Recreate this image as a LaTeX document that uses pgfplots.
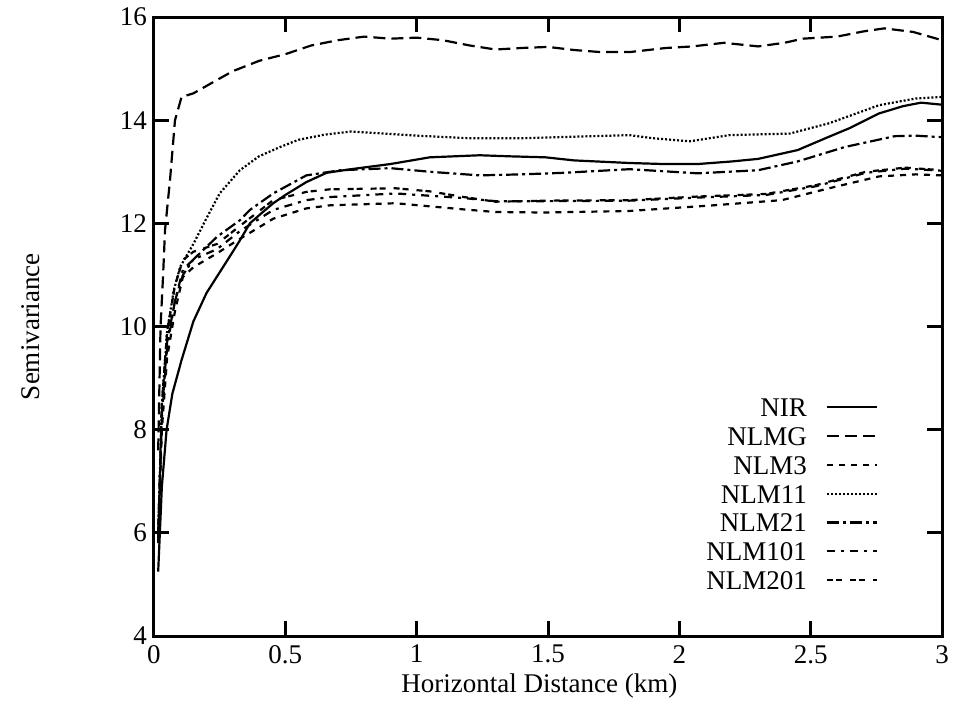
\documentclass[border=0pt]{standalone}
\usepackage{fontspec}
\setmainfont{Liberation Serif}
\usepackage{pgfplots}
\pgfplotsset{compat=1.18}
\newcommand\f{\fontsize{13.5}{16}\selectfont}
\begin{document}
\begin{tikzpicture}
\begin{axis}[
  scale only axis, width=394pt, height=309.5pt,
  xmin=0, xmax=3, ymin=4, ymax=16,
  xtick={0,0.5,...,3}, ytick={4,6,...,16},
  xticklabels={0,0.5,1,1.5,2,2.5,3},
  tick align=inside, major tick length=7.5pt,
  axis line style={line width=1.5pt}, every tick/.style={line width=1.5pt, black},
  /pgf/number format/assume math mode=true,
  tick label style={font=\f},
  label style={font=\f},
  xlabel={Horizontal Distance (km)},
  ylabel={Semivariance},
  xlabel style={at={(axis description cs:0.489,-0.081)}, anchor=center},
  ylabel style={at={(axis description cs:-0.157,0.5)}, anchor=center},
  xticklabel style={yshift=-1pt},
  clip=false,
  legend cell align=right,
  legend plot pos=right,
  legend image code/.code={\draw[#1] (0pt,0pt) -- (25pt,0pt);},
  legend style={draw=none, fill=none, font=\f, at={(axis description cs:0.927,0.397)}, anchor=north east,
    row sep=1.9pt, column sep=8pt, nodes={inner sep=1.5pt, text height=9.5pt, text depth=0pt}},
]
\addplot[black, solid, no markers, line width=1.1pt] coordinates {(0.016,5.25)(0.03,6.9)(0.048,8.0)(0.07,8.7)(0.105,9.35)(0.15,10.1)(0.2,10.65)(0.25,11.05)(0.3,11.45)(0.327,11.67)(0.365,12.0)(0.41,12.2)(0.454,12.39)(0.5,12.55)(0.58,12.8)(0.657,12.98)(0.75,13.05)(0.9,13.15)(1.05,13.28)(1.24,13.32)(1.35,13.3)(1.49,13.28)(1.6,13.22)(1.81,13.17)(1.94,13.15)(2.07,13.15)(2.2,13.2)(2.3,13.25)(2.45,13.42)(2.57,13.68)(2.65,13.85)(2.76,14.13)(2.85,14.27)(2.92,14.34)(3.0,14.3)};
\addlegendentry{NIR}
\addplot[black, no markers, line width=1.1pt, dash pattern=on 6pt off 3pt] coordinates {(0.016,7.6)(0.025,10.0)(0.035,11.03)(0.042,11.87)(0.061,12.84)(0.08,14.0)(0.105,14.45)(0.15,14.52)(0.24,14.78)(0.3,14.95)(0.4,15.15)(0.5,15.28)(0.6,15.45)(0.7,15.55)(0.8,15.62)(0.9,15.58)(1.0,15.6)(1.1,15.55)(1.2,15.45)(1.3,15.37)(1.4,15.4)(1.5,15.42)(1.6,15.36)(1.7,15.32)(1.81,15.32)(1.95,15.4)(2.05,15.43)(2.17,15.5)(2.3,15.43)(2.4,15.5)(2.47,15.58)(2.6,15.62)(2.7,15.72)(2.78,15.78)(2.89,15.71)(3.0,15.55)};
\addlegendentry{NLMG}
\addplot[black, no markers, line width=1.1pt, dash pattern=on 3pt off 3pt] coordinates {(0.016,5.8)(0.03,8.0)(0.05,9.4)(0.08,10.3)(0.11,10.96)(0.15,11.15)(0.24,11.42)(0.327,11.7)(0.454,12.09)(0.58,12.29)(0.67,12.35)(0.92,12.39)(1.18,12.27)(1.3,12.22)(1.49,12.21)(1.81,12.24)(2.13,12.35)(2.39,12.45)(2.57,12.68)(2.76,12.91)(2.9,12.95)(3.0,12.93)};
\addlegendentry{NLM3}
\addplot[black, no markers, line width=1.1pt, dash pattern=on 1pt off 1pt] coordinates {(0.016,6.0)(0.03,8.5)(0.05,9.9)(0.075,10.7)(0.1,11.16)(0.15,11.6)(0.2,12.1)(0.25,12.58)(0.327,13.03)(0.4,13.3)(0.48,13.48)(0.55,13.62)(0.65,13.72)(0.75,13.78)(0.85,13.75)(1.0,13.7)(1.2,13.65)(1.4,13.65)(1.6,13.68)(1.81,13.71)(1.9,13.65)(2.04,13.59)(2.19,13.71)(2.42,13.74)(2.57,13.94)(2.76,14.29)(2.9,14.42)(3.0,14.45)};
\addlegendentry{NLM11}
\addplot[black, no markers, line width=1.1pt, dash pattern=on 6pt off 2pt on 1.5pt off 2pt] coordinates {(0.016,6.0)(0.03,8.3)(0.05,9.7)(0.08,10.5)(0.11,11.0)(0.15,11.3)(0.24,11.74)(0.327,12.06)(0.365,12.26)(0.454,12.58)(0.58,12.93)(0.71,13.03)(0.9,13.07)(1.05,13.0)(1.24,12.93)(1.4,12.95)(1.56,12.98)(1.81,13.05)(2.07,12.97)(2.3,13.03)(2.45,13.2)(2.63,13.48)(2.82,13.69)(2.9,13.7)(3.0,13.67)};
\addlegendentry{NLM21}
\addplot[black, no markers, line width=1.1pt, dash pattern=on 4pt off 3pt on 1.5pt off 3pt] coordinates {(0.016,5.9)(0.03,8.2)(0.05,9.6)(0.08,10.5)(0.11,11.1)(0.15,11.3)(0.24,11.5)(0.327,11.85)(0.454,12.26)(0.58,12.45)(0.67,12.51)(0.92,12.58)(1.18,12.49)(1.3,12.43)(1.49,12.43)(1.81,12.44)(2.07,12.5)(2.33,12.55)(2.52,12.72)(2.71,12.98)(2.86,13.06)(3.0,13.02)};
\addlegendentry{NLM101}
\addplot[black, no markers, line width=1.1pt, dash pattern=on 3pt off 1.5pt on 3pt off 4pt] coordinates {(0.016,6.0)(0.03,8.5)(0.05,9.9)(0.08,10.8)(0.11,11.29)(0.15,11.45)(0.24,11.6)(0.327,11.95)(0.454,12.45)(0.58,12.61)(0.67,12.66)(0.92,12.68)(1.05,12.62)(1.18,12.51)(1.3,12.42)(1.49,12.44)(1.81,12.45)(2.07,12.52)(2.33,12.57)(2.52,12.74)(2.71,13.0)(2.86,13.08)(3.0,13.03)};
\addlegendentry{NLM201}
\path (rel axis cs:-0.1954,-0.1212) rectangle (rel axis cs:1.019,1.0275);
\end{axis}
\end{tikzpicture}
\end{document}
